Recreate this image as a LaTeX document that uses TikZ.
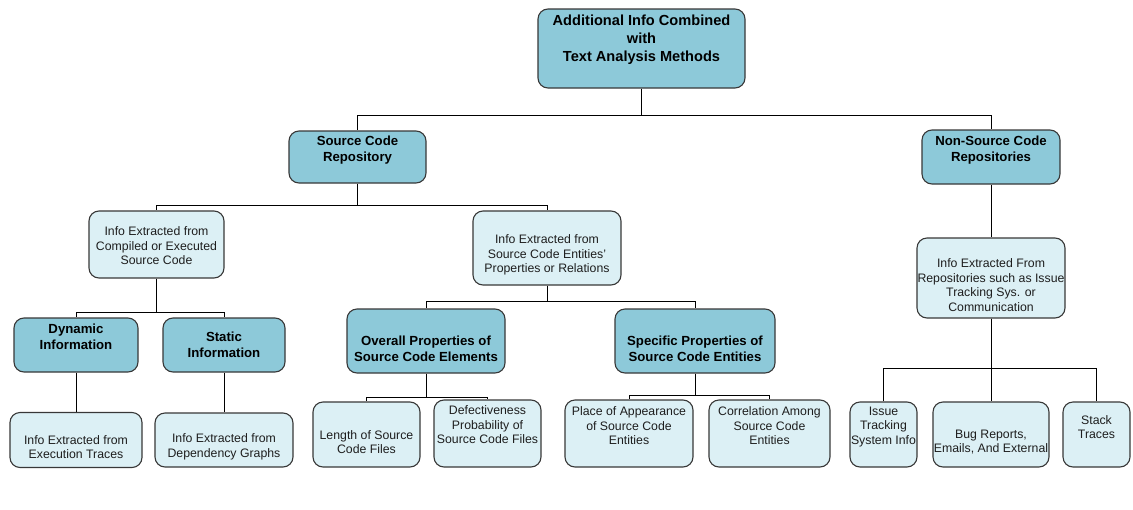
\documentclass[tikz,border=0pt]{standalone}
\usepackage{fontspec}
\setmainfont{Liberation Sans}
\definecolor{boxdark}{HTML}{8DC9D9}
\definecolor{boxlight}{HTML}{DCF0F5}
\definecolor{edgegray}{HTML}{383838}
\definecolor{txtgray}{HTML}{1E1E1E}
\tikzset{
  card/.style={draw=edgegray, line width=1.1pt, rounded corners=10pt, inner sep=0pt},
  darkcard/.style={card, fill=boxdark},
  lightcard/.style={card, fill=boxlight},
  headtxt/.style={inner sep=0pt, align=center, font=\fontsize{14.6}{18}\selectfont\bfseries},
  boldtxt/.style={inner sep=0pt, align=center, font=\fontsize{13.2}{16}\selectfont\bfseries},
  plaintxt/.style={inner sep=0pt, align=center, text=txtgray, font=\fontsize{12.3}{14.5}\selectfont},
  link/.style={draw=black, line width=0.9pt}
}
% \card{style}{name}{cx}{cy}{width}{height}{text y}{text style}{text}
\newcommand{\card}[9]{%
  \node[#1, minimum width=#5, minimum height=#6] (#2) at (#3,#4) {};
  \node[#8] (#2-t) at (#3,#7) {#9};
}
\begin{document}
\begin{tikzpicture}[x=1pt, y=-1pt]
\useasboundingbox (0,0) rectangle (1133,509);

% level 0
\card{darkcard}{top}{641.5}{48.5}{207}{79}{40}{headtxt}{Additional Info Combined\\with\\Text Analysis Methods}

% level 1
\card{darkcard}{scr}{357.5}{157}{137}{52}{150}{boldtxt}{Source Code\\Repository}
\card{darkcard}{nscr}{991}{157}{138}{54}{150}{boldtxt}{Non-Source Code\\Repositories}

% level 2
\card{lightcard}{comp}{156.5}{244.5}{135}{67}{246}{plaintxt}{Info Extracted from\\Compiled or Executed\\Source Code}
\card{lightcard}{ent}{547}{248}{148}{74}{255}{plaintxt}{Info Extracted from\\Source Code Entities'\\Properties or Relations}
\card{lightcard}{rep}{991}{278}{148}{80}{285}{plaintxt}{Info Extracted From\\Repositories such as Issue\\Tracking Sys. or\\Communication}

% level 3
\card{darkcard}{dyn}{76}{345}{124}{54}{337}{boldtxt}{Dynamic\\Information}
\card{darkcard}{stat}{224}{345}{122}{54}{345}{boldtxt}{Static\\Information}
\card{darkcard}{overall}{426}{341}{158}{64}{349}{boldtxt}{Overall Properties of\\Source Code Elements}
\card{darkcard}{spec}{695}{341}{160}{64}{349}{boldtxt}{Specific Properties of\\Source Code Entities}

% leaves
\card{lightcard}{exe}{76}{440}{132}{55}{447}{plaintxt}{Info Extracted from\\Execution Traces}
\card{lightcard}{dep}{224}{440}{138}{54}{447}{plaintxt}{Info Extracted from\\Dependency Graphs}
\card{lightcard}{len}{366.5}{434.5}{107}{65}{442}{plaintxt}{Length of Source\\Code Files}
\card{lightcard}{defect}{487.5}{433.5}{107}{67}{425}{plaintxt}{Defectiveness\\Probability of\\Source Code Files}
\card{lightcard}{place}{629}{433.5}{128}{67}{426}{plaintxt}{Place of Appearance\\of Source Code\\Entities}
\card{lightcard}{corr}{769.5}{433.5}{121}{67}{426}{plaintxt}{Correlation Among\\Source Code\\Entities}
\card{lightcard}{issue}{883.5}{434.5}{67}{65}{427}{plaintxt}{Issue\\Tracking\\System Info}
\card{lightcard}{bug}{991}{434.5}{116}{65}{442}{plaintxt}{Bug Reports,\\Emails, And External}
\card{lightcard}{stack}{1096.5}{434.5}{67}{65}{427}{plaintxt}{Stack\\Traces}

% connectors
\draw[link] (top.south) -- ++(0,27) -| (scr.north);
\draw[link] (top.south) -- ++(0,27) -| (nscr.north);

\draw[link] (scr.south) -- ++(0,22) -| (comp.north);
\draw[link] (scr.south) -- ++(0,22) -| (ent.north);
\draw[link] (nscr.south) -- (rep.north);

\draw[link] (comp.south) -- ++(0,34) -| (dyn.north);
\draw[link] (comp.south) -- ++(0,34) -| (stat.north);
\draw[link] (dyn.south) -- (exe.north);
\draw[link] (stat.south) -- (dep.north);

\draw[link] (ent.south) -- ++(0,16) -| (overall.north);
\draw[link] (ent.south) -- ++(0,16) -| (spec.north);

\draw[link] (overall.south) -- ++(0,24) -| (len.north);
\draw[link] (overall.south) -- ++(0,24) -| (defect.north);
\draw[link] (spec.south) -- ++(0,22) -| (place.north);
\draw[link] (spec.south) -- ++(0,22) -| (corr.north);

\draw[link] (rep.south) -- ++(0,50) -| (issue.north);
\draw[link] (rep.south) -- ++(0,50) -| (bug.north);
\draw[link] (rep.south) -- ++(0,50) -| (stack.north);
\end{tikzpicture}
\end{document}
